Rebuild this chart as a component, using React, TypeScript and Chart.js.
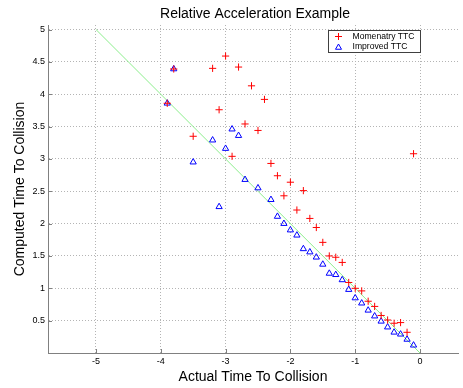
import React, { useEffect, useRef } from 'react';
import { Chart, registerables } from 'chart.js';

Chart.register(...registerables);

const chartTitle = 'Relative Acceleration Example';
const xAxisTitle = 'Actual Time To Collision';
const yAxisTitle = 'Computed Time To Collision';
const legendLabels = ['Momenatry TTC', 'Improved TTC'];

const xTicks = [-5, -4, -3, -2, -1, 0];
const yTicks = [0.5, 1, 1.5, 2, 2.5, 3, 3.5, 4, 4.5, 5];

const actualRed = [-3.9, -3.8, -3.5, -3.2, -3.1, -3.0, -2.9, -2.8, -2.7, -2.6, -2.5, -2.4, -2.3, -2.2, -2.1, -2.0, -1.9, -1.8, -1.7, -1.6, -1.5, -1.4, -1.3, -1.2, -1.1, -1.0, -0.9, -0.8, -0.7, -0.6, -0.5, -0.4, -0.3, -0.2, -0.1];
const momentaryTTC = [3.86, 4.39, 3.35, 4.40, 3.76, 4.59, 3.04, 4.42, 3.54, 4.13, 3.44, 3.92, 2.93, 2.74, 2.43, 2.64, 2.21, 2.51, 2.08, 1.94, 1.71, 1.50, 1.48, 1.40, 1.09, 1.00, 0.96, 0.80, 0.72, 0.58, 0.51, 0.46, 0.47, 0.32, 3.08];

const actualBlue = [-3.9, -3.8, -3.5, -3.2, -3.1, -3.0, -2.9, -2.8, -2.7, -2.5, -2.3, -2.2, -2.1, -2.0, -1.9, -1.8, -1.7, -1.6, -1.5, -1.4, -1.3, -1.2, -1.1, -1.0, -0.9, -0.8, -0.7, -0.6, -0.5, -0.4, -0.3, -0.2, -0.1];
const improvedTTC = [3.86, 4.39, 2.95, 3.29, 2.26, 3.16, 3.46, 3.36, 2.68, 2.55, 2.37, 2.11, 2.00, 1.90, 1.82, 1.61, 1.56, 1.48, 1.37, 1.23, 1.21, 1.13, 0.98, 0.85, 0.77, 0.66, 0.57, 0.49, 0.40, 0.32, 0.29, 0.21, 0.12];

const refLineX = [-5, 0];
const refLineY = [5, 0];

const FONT = "'Liberation Sans', Arial, Helvetica, sans-serif";

const innerTicksPlugin = {
  id: 'innerTicks',
  afterDraw(chart: any) {
    const { ctx, chartArea, scales } = chart;
    ctx.save();
    ctx.strokeStyle = '#808080';
    ctx.lineWidth = 1;
    ctx.beginPath();
    scales.x.ticks.forEach((t: any) => {
      const px = Math.round(scales.x.getPixelForValue(t.value)) + 0.5;
      ctx.moveTo(px, chartArea.bottom);
      ctx.lineTo(px, chartArea.bottom - 4);
    });
    scales.y.ticks.forEach((t: any) => {
      const py = Math.round(scales.y.getPixelForValue(t.value)) + 0.5;
      ctx.moveTo(chartArea.left, py);
      ctx.lineTo(chartArea.left + 4, py);
    });
    ctx.stroke();
    ctx.restore();
  },
};

const titlePlugin = {
  id: 'centeredTitle',
  afterDraw(chart: any) {
    const { ctx, chartArea } = chart;
    ctx.save();
    ctx.fillStyle = '#000';
    ctx.font = `14px ${FONT}`;
    ctx.textAlign = 'center';
    ctx.textBaseline = 'middle';
    ctx.fillText(chartTitle, (chartArea.left + chartArea.right) / 2 + 2, 14);
    ctx.restore();
  },
};

const legendBoxPlugin = {
  id: 'legendBox',
  afterDraw(chart: any) {
    const { ctx, chartArea } = chart;
    const w = 92;
    const h = 22;
    const x0 = Math.round(chartArea.right - 38 - w) + 0.5;
    const y0 = Math.round(chartArea.top + 5) + 0.5;
    ctx.save();
    ctx.fillStyle = '#ffffff';
    ctx.fillRect(x0, y0, w, h);
    ctx.strokeStyle = '#404040';
    ctx.lineWidth = 1;
    ctx.strokeRect(x0, y0, w, h);
    const mx = x0 + 10;
    const r1 = y0 + 6;
    const r2 = y0 + 16;
    ctx.strokeStyle = '#ff0000';
    ctx.beginPath();
    ctx.moveTo(mx - 3.5, r1);
    ctx.lineTo(mx + 3.5, r1);
    ctx.moveTo(mx, r1 - 3.5);
    ctx.lineTo(mx, r1 + 3.5);
    ctx.stroke();
    ctx.strokeStyle = '#0000ff';
    ctx.beginPath();
    const r = 3.5;
    for (let i = 0; i < 3; i++) {
      const a = (i * 2 * Math.PI) / 3;
      const px = mx + Math.sin(a) * r;
      const py = r2 + 1 - Math.cos(a) * r;
      if (i === 0) ctx.moveTo(px, py);
      else ctx.lineTo(px, py);
    }
    ctx.closePath();
    ctx.stroke();
    ctx.fillStyle = '#000000';
    ctx.font = `8.6px ${FONT}`;
    ctx.textBaseline = 'middle';
    ctx.textAlign = 'left';
    ctx.fillText(legendLabels[0], x0 + 24, r1 + 0.5);
    ctx.fillText(legendLabels[1], x0 + 24, r2 + 0.5);
    ctx.restore();
  },
};

export default function App() {
  const canvasRef = useRef<HTMLCanvasElement | null>(null);

  useEffect(() => {
    if (!canvasRef.current) return;
    Chart.defaults.font.family = FONT;
    const chart = new Chart(canvasRef.current, {
      type: 'scatter',
      data: {
        datasets: [
          {
            label: legendLabels[0],
            data: actualRed.map((x, i) => ({ x, y: momentaryTTC[i] })),
            pointStyle: 'cross',
            pointRadius: 3.6,
            borderColor: '#ff0000',
            backgroundColor: '#ff0000',
            borderWidth: 1,
            showLine: false,
          },
          {
            label: legendLabels[1],
            data: actualBlue.map((x, i) => ({ x, y: improvedTTC[i] })),
            pointStyle: 'triangle',
            pointRadius: 3.6,
            borderColor: '#0000ff',
            backgroundColor: 'rgba(0,0,0,0)',
            borderWidth: 1,
            showLine: false,
          },
          {
            label: 'reference',
            data: refLineX.map((x, i) => ({ x, y: refLineY[i] })),
            showLine: true,
            borderColor: 'rgb(140,238,140)',
            borderWidth: 1,
            pointRadius: 0,
            fill: false,
          },
        ],
      },
      options: {
        animation: false,
        responsive: true,
        maintainAspectRatio: false,
        layout: { padding: { top: 25, left: 0, right: 0, bottom: 0 } },
        plugins: {
          legend: { display: false },
          tooltip: { enabled: false },
          title: { display: false },
        },
        scales: {
          x: {
            type: 'linear',
            min: -5.74,
            max: 0.586,
            afterBuildTicks: (scale: any) => {
              scale.ticks = xTicks.map((v) => ({ value: v }));
            },
            afterFit: (scale: any) => {
              scale.height = 35;
              scale.paddingLeft = 0;
              scale.paddingRight = 0;
            },
            ticks: {
              color: '#000',
              font: { size: 9, family: FONT },
              padding: 3,
              maxRotation: 0,
              callback: (v: any) => String(v),
            },
            grid: { color: '#b4b4b4', drawTicks: false, lineWidth: 1 },
            border: { display: true, color: '#808080', width: 1, dash: [1, 2] },
            title: {
              display: true,
              text: xAxisTitle,
              color: '#000',
              font: { size: 14, family: FONT },
              padding: { top: 0, bottom: 2 },
            },
          },
          y: {
            type: 'linear',
            min: 0,
            max: 5.07,
            afterBuildTicks: (scale: any) => {
              scale.ticks = yTicks.map((v) => ({ value: v }));
            },
            afterFit: (scale: any) => {
              scale.width = 48;
              scale.paddingTop = 0;
              scale.paddingBottom = 0;
            },
            ticks: {
              color: '#000',
              font: { size: 9, family: FONT },
              padding: 3,
              callback: (v: any) => String(v),
            },
            grid: { color: '#b4b4b4', drawTicks: false, lineWidth: 1 },
            border: { display: true, color: '#808080', width: 1, dash: [1, 2] },
            title: {
              display: true,
              text: yAxisTitle,
              color: '#000',
              font: { size: 14, family: FONT },
              padding: { top: 12, bottom: 0 },
            },
          },
        },
      },
      plugins: [innerTicksPlugin, legendBoxPlugin, titlePlugin],
    } as any);
    return () => chart.destroy();
  }, []);

  return (
    <div style={{ position: 'absolute', left: 0, top: 0, width: 463, height: 388, background: '#fff' }}>
      <canvas ref={canvasRef} />
    </div>
  );
}
